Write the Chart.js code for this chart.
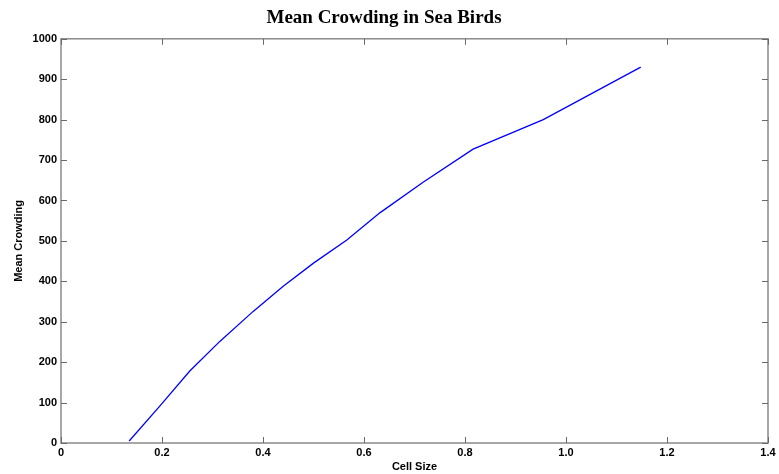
<!DOCTYPE html>
<html>
<head>
<meta charset="utf-8">
<script src="https://cdn.jsdelivr.net/npm/chart.js@4"></script>
<style>
  html, body { margin: 0; padding: 0; background: #fff; }
  #wrap { width: 779px; height: 474px; }
</style>
</head>
<body>
<div id="wrap"><canvas id="grafico" width="779" height="474"></canvas></div>
<script>
// valores
const cellSize = [0.135, 0.196, 0.255, 0.315, 0.38, 0.44, 0.5, 0.566, 0.632, 0.717, 0.816, 0.955, 1.148];
const meanCrowding = [5, 92, 178, 252, 325, 388, 445, 502, 570, 645, 727, 800, 930];
const xTicks = [0, 0.2, 0.4, 0.6, 0.8, 1, 1.2, 1.4];
const yTicks = [0, 100, 200, 300, 400, 500, 600, 700, 800, 900, 1000];

const pontos = cellSize.map((x, i) => ({ x: x, y: meanCrowding[i] }));

// moldura e marcas internas (estilo matlab)
const moldura = {
    id: 'moldura',
    afterDraw(chart) {
        const ctx = chart.ctx;
        const a = chart.chartArea;
        const sx = chart.scales.x, sy = chart.scales.y;
        ctx.save();
        ctx.strokeStyle = '#8a8a8a';
        ctx.lineWidth = 1.5;
        ctx.strokeRect(a.left, a.top, a.right - a.left, a.bottom - a.top);
        ctx.lineWidth = 1;
        ctx.strokeStyle = '#6a6a6a';
        const len = 6;
        xTicks.forEach(v => {
            const px = Math.round(sx.getPixelForValue(v)) + 0.5;
            ctx.beginPath();
            ctx.moveTo(px, a.bottom); ctx.lineTo(px, a.bottom - len);
            ctx.moveTo(px, a.top); ctx.lineTo(px, a.top + len);
            ctx.stroke();
        });
        yTicks.forEach(v => {
            const py = Math.round(sy.getPixelForValue(v)) + 0.5;
            ctx.beginPath();
            ctx.moveTo(a.left, py); ctx.lineTo(a.left + len, py);
            ctx.moveTo(a.right, py); ctx.lineTo(a.right - len, py);
            ctx.stroke();
        });
        ctx.restore();
    }
};

const fonteTick = { family: 'Liberation Sans, Arial, sans-serif', size: 11, weight: 'bold' };

new Chart(document.getElementById('grafico').getContext('2d'), {
    type: 'line',
    data: {
        datasets: [{
            data: pontos,
            borderColor: '#0000ff',
            borderWidth: 1.3,
            pointRadius: 0,
            tension: 0,
            fill: false
        }]
    },
    options: {
        responsive: false,
        animation: false,
        layout: { padding: { top: 0, right: 11, bottom: 0, left: 0 } },
        plugins: {
            legend: { display: false },
            tooltip: { enabled: false },
            title: {
                display: true,
                text: 'Mean Crowding in Sea Birds',
                color: '#000',
                font: { family: 'Liberation Serif, Times New Roman, serif', size: 19, weight: 'bold', lineHeight: 1.2 },
                padding: { top: 7, bottom: 9 }
            }
        },
        scales: {
            x: {
                type: 'linear',
                min: 0,
                max: 1.4,
                afterBuildTicks: s => { s.ticks = xTicks.map(v => ({ value: v })); },
                afterFit: s => { s.height = 31; },
                grid: { display: false, drawTicks: false },
                border: { display: false },
                ticks: { color: '#000', font: fonteTick, padding: 3, maxRotation: 0 },
                title: {
                    display: true,
                    text: 'Cell Size',
                    color: '#000',
                    font: { family: 'Liberation Sans, Arial, sans-serif', size: 11, weight: 'bold' },
                    padding: { top: 0, bottom: 0 }
                }
            },
            y: {
                type: 'linear',
                min: 0,
                max: 1000,
                afterBuildTicks: s => { s.ticks = yTicks.map(v => ({ value: v })); },
                afterFit: s => { s.width = 61; },
                grid: { display: false, drawTicks: false },
                border: { display: false },
                ticks: { color: '#000', font: fonteTick, padding: 4, callback: v => String(v) },
                title: {
                    display: true,
                    text: 'Mean Crowding',
                    color: '#000',
                    font: { family: 'Liberation Sans, Arial, sans-serif', size: 11, weight: 'bold' },
                    padding: { top: 12, bottom: 0 }
                }
            }
        }
    },
    plugins: [moldura]
});
</script>
</body>
</html>
